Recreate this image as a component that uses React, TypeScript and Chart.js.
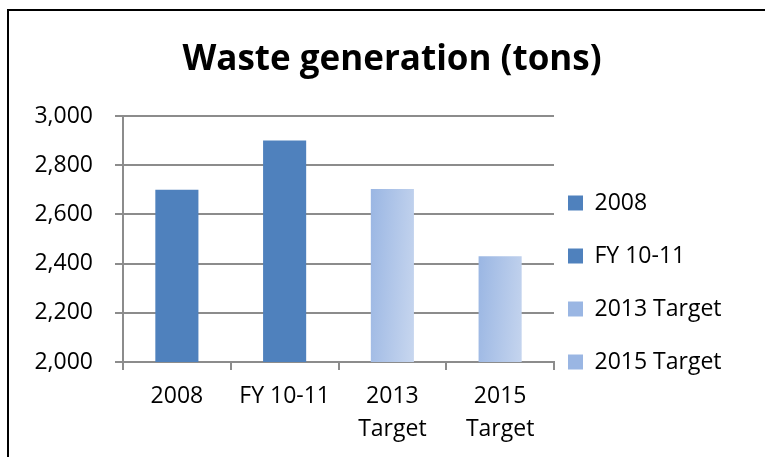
import React, { useEffect, useRef } from 'react';
import { Chart, registerables } from 'chart.js';

Chart.register(...registerables);

// ---- data ----
const categories = ['2008', 'FY 10-11', '2013 Target', '2015 Target'];
const axisLabels = [['2008'], ['FY 10-11'], ['2013', 'Target'], ['2015', 'Target']];
const values = [2700, 2900, 2703, 2430];
const isTarget = [false, false, true, true];
const yMin = 2000;
const yMax = 3000;
const yStep = 200;
const titleText = 'Waste generation (tons)';

// ---- styles ----
const SOLID = '#4F81BD';
const GRAD_A = '#9AB6E3';
const GRAD_B = '#E3EAF6';
const GRID = '#8C8C8C';
const FONT = "'Open Sans'";
const BAR_PCT = 0.4;
const LEGEND_W = 177;
const PAD_R = 34;
const PAD_L = 20;
const TITLE_CX = 392;

function shapeGradient(c: CanvasRenderingContext2D, l: number, t: number, w: number, h: number) {
  const k = (2 * w * h) / (w * w + h * h);
  const g = c.createLinearGradient(l, t, l + h * k, t + w * k);
  g.addColorStop(0, GRAD_A);
  g.addColorStop(1, GRAD_B);
  return g;
}

function barFill(ctx: any) {
  const i = ctx.dataIndex;
  return isTarget[i] ? GRAD_A : SOLID;
}

const framePlugin = {
  id: 'frame',
  beforeDraw(chart: any) {
    const c = chart.ctx;
    c.save();
    c.fillStyle = '#fff';
    c.fillRect(0, 0, chart.width, chart.height);
    c.fillStyle = '#000';
    c.fillRect(7, 9, chart.width - 7, 2);
    c.fillRect(7, 9, 2, chart.height - 9);
    c.restore();
  },
};

const gradientBars = {
  id: 'gradientBars',
  beforeDatasetsDraw(chart: any) {
    const meta = chart.getDatasetMeta(0);
    meta.data.forEach((bar: any, i: number) => {
      if (!isTarget[i]) return;
      const w = bar.width;
      const l = bar.x - w / 2;
      const t = Math.min(bar.y, bar.base);
      const h = Math.abs(bar.base - bar.y);
      try {
        bar.options.backgroundColor = shapeGradient(chart.ctx, l, t, w, h);
      } catch (e) {
        /* ignore */
      }
    });
  },
};

const LEGEND_LEFT = 538;
const LEGEND_DY = 54;
const layoutTweak = {
  id: 'layoutTweak',
  afterLayout(chart: any) {
    const tb = chart.titleBlock;
    if (tb) {
      const cx = (tb.left + tb.right) / 2;
      const d = TITLE_CX - cx;
      tb.left += d;
      tb.right += d;
    }
    const lg = chart.legend;
    if (!lg) return;
    const dx = LEGEND_LEFT - lg.left;
    lg.left += dx;
    lg.right = chart.width;
    lg.width = lg.right - lg.left;
    lg.top += LEGEND_DY;
    lg.bottom += LEGEND_DY;
    if (lg.legendHitBoxes) {
      lg.legendHitBoxes.forEach((hb: any) => { hb.left += dx; hb.top += LEGEND_DY; });
    }
    if (lg.legendItems && lg.legendHitBoxes) {
      lg.legendItems.forEach((it: any, i: number) => {
        if (isTarget[i]) {
          const hb = lg.legendHitBoxes[i];
          const pad = lg.options.labels.padding;
          const bx = lg.left + pad;
          const by = hb.top + (hb.height - 15) / 2;
          it.fillStyle = shapeGradient(chart.ctx, bx, by, 15, 15);
        }
      });
    }
  },
};

export default function App() {
  const ref = useRef<HTMLCanvasElement | null>(null);
  useEffect(() => {
    if (!ref.current) return;
    Chart.defaults.color = '#000';
    Chart.defaults.font.family = FONT;
    const chart = new Chart(ref.current, {
      type: 'bar',
      data: {
        labels: axisLabels as any,
        datasets: [
          {
            label: 'Waste',
            data: values,
            backgroundColor: barFill as any,
            borderWidth: 0,
            barPercentage: BAR_PCT,
            categoryPercentage: 1,
          },
        ],
      },
      options: {
        responsive: false,
        animation: false,
        layout: { padding: { left: PAD_L, right: PAD_R, top: 0, bottom: 0 } },
        plugins: {
          tooltip: { enabled: false },
          title: {
            display: true,
            text: titleText,
            color: '#000',
            font: { family: FONT, size: 35, weight: 'bold', lineHeight: 1.2 },
            padding: { top: 39, bottom: 35 },
          },
          legend: {
            display: true,
            position: 'right',
            align: 'center',
            maxWidth: LEGEND_W,
            labels: {
              color: '#000',
              font: { family: FONT, size: 23 },
              boxWidth: 15,
              boxHeight: 15,
              padding: 30,
              generateLabels: () =>
                categories.map((c, i) => ({
                  text: c,
                  fillStyle: isTarget[i] ? GRAD_A : SOLID,
                  strokeStyle: 'rgba(0,0,0,0)',
                  lineWidth: 0,
                  hidden: false,
                  index: i,
                  datasetIndex: 0,
                })) as any,
            },
          },
        },
        scales: {
          x: {
            offset: true,
            grid: {
              display: true,
              drawOnChartArea: false,
              drawTicks: true,
              tickLength: 8,
              color: GRID,
              lineWidth: 2,
              offset: true,
            },
            border: { display: true, color: GRID, width: 2 },
            ticks: {
              color: '#000',
              font: { family: FONT, size: 23, lineHeight: 1.43 },
              padding: 10,
              maxRotation: 0,
              autoSkip: false,
            },
            afterFit: (s: any) => { s.height = 95; },
          },
          y: {
            min: yMin,
            max: yMax,
            ticks: {
              stepSize: yStep,
              color: '#000',
              font: { family: FONT, size: 23 },
              padding: 22,
              callback: (v: any) => Number(v).toLocaleString('en-US'),
            },
            grid: {
              display: true,
              color: GRID,
              lineWidth: 2,
              tickLength: 8,
              drawTicks: true,
            },
            border: { display: true, color: GRID, width: 2 },
            afterFit: (s: any) => { s.width = 123 - PAD_L; },
          },
        },
      },
      plugins: [framePlugin, layoutTweak, gradientBars],
    });
    return () => chart.destroy();
  }, []);
  return (
    <div style={{ position: 'fixed', left: 0, top: 0, width: 765, height: 457 }}>
      <canvas ref={ref} width={765} height={457} />
    </div>
  );
}
